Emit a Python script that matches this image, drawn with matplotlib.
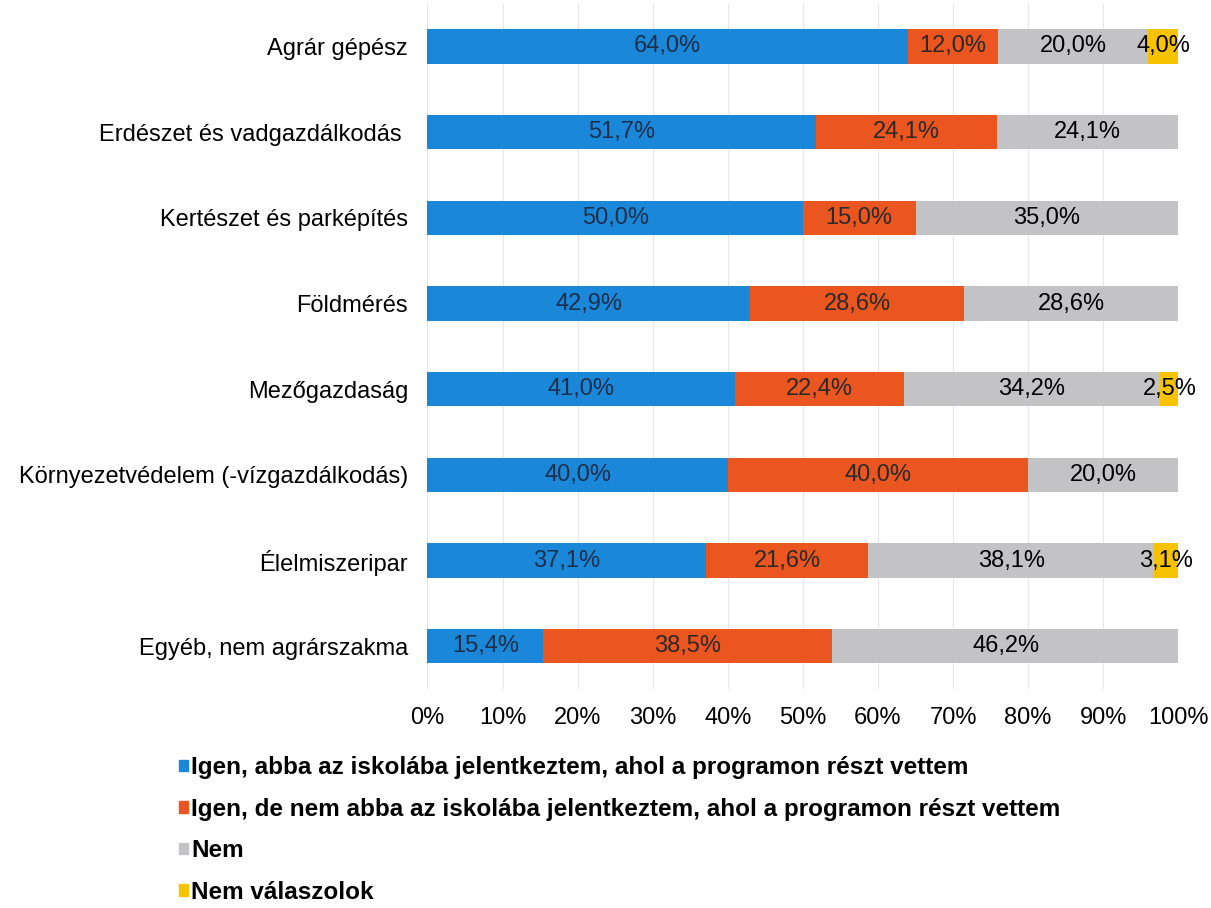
import matplotlib
matplotlib.use("Agg")
import matplotlib.pyplot as plt
from matplotlib.patches import Patch

# adatok (felülről lefelé)
kategoriak = ["Agrár gépész", "Erdészet és vadgazdálkodás ", "Kertészet és parképítés",
              "Földmérés", "Mezőgazdaság", "Környezetvédelem (-vízgazdálkodás)",
              "Élelmiszeripar", "Egyéb, nem agrárszakma"]
igen_ugyanoda = [64.0, 51.7, 50.0, 42.9, 41.0, 40.0, 37.1, 15.4]
igen_mashova = [12.0, 24.1, 15.0, 28.6, 22.4, 40.0, 21.6, 38.5]
nem = [20.0, 24.1, 35.0, 28.6, 34.2, 20.0, 38.1, 46.2]
nem_valaszol = [4.0, 0.0, 0.0, 0.0, 2.5, 0.0, 3.1, 0.0]

sorozatok = [
    ("Igen, abba az iskolába jelentkeztem, ahol a programon részt vettem", igen_ugyanoda, "#1b87d9", "#1c2f4a"),
    ("Igen, de nem abba az iskolába jelentkeztem, ahol a programon részt vettem", igen_mashova, "#ea5520", "#2a2a2a"),
    ("Nem", nem, "#c3c3c6", "#000000"),
    ("Nem válaszolok", nem_valaszol, "#f7c300", "#000000"),
]

plt.rcParams["font.family"] = ["Liberation Sans", "DejaVu Sans"]
FS = 17

fig = plt.figure(figsize=(12.11, 9.08), dpi=100)
ax = fig.add_axes([0.353, 0.241, 0.620, 0.755])

y = list(range(len(kategoriak)))
left = [0.0] * len(kategoriak)
for nev, ertekek, szin, tszin in sorozatok:
    ax.barh(y, ertekek, left=left, height=0.4, color=szin, label=nev, zorder=2)
    for i, v in enumerate(ertekek):
        if v > 0:
            ax.text(left[i] + v / 2, i, f"{v:.1f}%".replace(".", ","), ha="center", va="center",
                    fontsize=FS, color=tszin, zorder=3)
    left = [l + v for l, v in zip(left, ertekek)]

ax.set_ylim(len(kategoriak) - 0.5, -0.5)
ax.set_xlim(0, 100)
ax.set_yticks(y)
ax.set_yticklabels(kategoriak, fontsize=FS)
ax.set_xticks(range(0, 101, 10))
ax.set_xticklabels([f"{t}%" for t in range(0, 101, 10)], fontsize=FS)
ax.tick_params(length=0)
ax.tick_params(axis="x", pad=13)
ax.tick_params(axis="y", pad=14)
ax.grid(axis="x", color="#e6e6e6", lw=0.8, zorder=0)
for s in ax.spines.values():
    s.set_visible(False)

kezek = [Patch(color=s[2]) for s in sorozatok]
fig.legend(kezek, [s[0] for s in sorozatok], loc="upper left",
           bbox_to_anchor=(0.148, 0.167), frameon=False,
           prop={"size": 17.5, "weight": "bold"},
           handlelength=0.35, handleheight=0.35, handletextpad=0.15,
           labelspacing=0.76, borderaxespad=0, borderpad=0)

fig.savefig("out.png", dpi=100)
